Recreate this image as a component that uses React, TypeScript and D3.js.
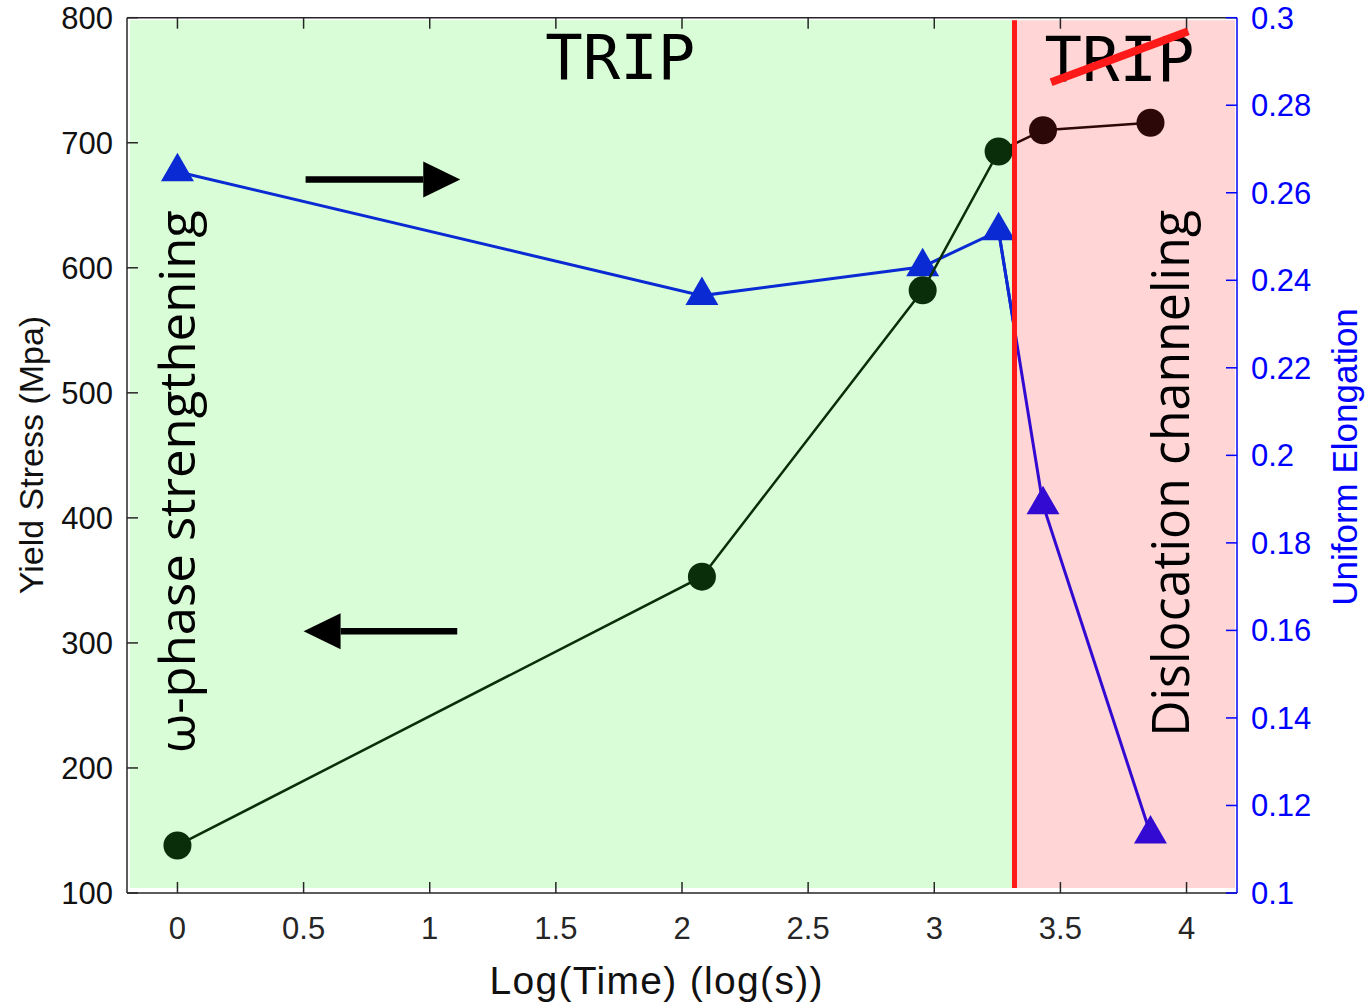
import React from "react";
import * as d3 from "d3";

// ---- data ----
const logTime = [0, 2.079, 2.954, 3.255, 3.431, 3.857];
const yieldStress = [138, 353, 582, 693, 710, 716];
const uniformElongation = [0.2648, 0.2365, 0.2431, 0.2513, 0.1887, 0.1135];
const transitionX = 3.318; // boundary between TRIP and dislocation channeling
const xTicks = [0, 0.5, 1, 1.5, 2, 2.5, 3, 3.5, 4];
const yLeftTicks = [100, 200, 300, 400, 500, 600, 700, 800];
const yRightTicks = [0.1, 0.12, 0.14, 0.16, 0.18, 0.2, 0.22, 0.24, 0.26, 0.28, 0.3];

const W = 1370;
const H = 1003;
const L = 127, R = 1237, T = 17.7, B = 893;

const x = d3.scaleLinear().domain([-0.2, 4.2]).range([L, R]);
const yL = d3.scaleLinear().domain([100, 800]).range([B, T]);
const yR = d3.scaleLinear().domain([0.1, 0.3]).range([B, T]);

const GREEN = "#0a2e0a";
const BROWN = "#2d0808";
const BLUE = "#0a2ad4";
const PURPLE = "#320ad2";
const AX = "#262626";
const SANS = "Liberation Sans, Arial, sans-serif";

export default function App() {
  const pts = logTime.map((t, i) => ({ t, s: yieldStress[i], u: uniformElongation[i], i }));
  const lineS = d3.line<any>().x((d) => x(d.t)).y((d) => yL(d.s));
  const lineU = d3.line<any>().x((d) => x(d.t)).y((d) => yR(d.u));
  const tri = d3.symbol().type(d3.symbolTriangle).size(470)();
  const xb = x(transitionX);

  const arrow = (x0: number, x1: number, yv: number) => {
    const px0 = x(x0), px1 = x(x1), py = yL(yv);
    const dir = Math.sign(px1 - px0);
    const head = 37;
    const base = px1 - dir * head;
    return (
      <g>
        <line x1={px0} x2={base} y1={py} y2={py} stroke="#000" strokeWidth={6.5} />
        <path d={`M${px1},${py} L${base},${py - 18} L${base},${py + 18} Z`} fill="#000" />
      </g>
    );
  };

  return (
    <svg width={W} height={H} style={{ position: "absolute", left: 0, top: 0, background: "#fff" }}>
      <defs>
        <clipPath id="leftZone">
          <rect x={L} y={0} width={xb - L} height={H} />
        </clipPath>
      </defs>
      {/* background regions */}
      <rect x={L + 3} y={T + 2.5} width={xb - L - 3} height={B - 5 - T - 2.5} fill="#d9fdd6" />
      <rect x={xb} y={T + 2.5} width={R - 2 - xb} height={B - 5 - T - 2.5} fill="#ffd5d5" />

      {/* annotations */}
      <text x={x(1.755)} y={yL(751)} fontFamily="DejaVu Sans Mono" fontSize={63} textAnchor="middle" fill="#000"
        textLength={150} lengthAdjust="spacingAndGlyphs">TRIP</text>
      <text x={x(3.734)} y={yL(749.5)} fontFamily="DejaVu Sans Mono" fontSize={63} textAnchor="middle" fill="#000"
        textLength={150} lengthAdjust="spacingAndGlyphs">TRIP</text>
      <text transform={`translate(${x(0.07)},${yL(429)}) rotate(-90)`} fontFamily="Open Sans" fontSize={49}
        textAnchor="middle" fill="#000" textLength={543} lengthAdjust="spacingAndGlyphs">ω-phase strengthening</text>
      <text transform={`translate(${x(4.009)},${yL(435.6)}) rotate(-90)`} fontFamily="Open Sans" fontSize={51}
        textAnchor="middle" fill="#000" textLength={527} lengthAdjust="spacingAndGlyphs">Dislocation channeling</text>
      {arrow(0.508, 1.121, 670.6)}
      {arrow(1.109, 0.5, 309.4)}

      {/* uniform elongation series */}
      <path d={lineU(pts.slice(3)) || ""} fill="none" stroke={PURPLE} strokeWidth={3} />
      <path d={lineU(pts.slice(0, 5)) || ""} fill="none" stroke={BLUE} strokeWidth={3} clipPath="url(#leftZone)" />
      {pts.map((p) => (
        <path key={"t" + p.i} d={tri || ""} transform={`translate(${x(p.t)},${yR(p.u)})`}
          fill={p.i < 4 ? BLUE : PURPLE} />
      ))}

      {/* yield stress series */}
      <path d={lineS(pts.slice(3)) || ""} fill="none" stroke={BROWN} strokeWidth={2.5} />
      <path d={lineS(pts.slice(0, 5)) || ""} fill="none" stroke={GREEN} strokeWidth={2.5} clipPath="url(#leftZone)" />
      {pts.map((p) => (
        <circle key={"c" + p.i} cx={x(p.t)} cy={yL(p.s)} r={14} fill={p.i < 4 ? GREEN : BROWN} />
      ))}

      {/* transition line and strike-through */}
      <line x1={xb} x2={xb} y1={T + 2.5} y2={B - 5} stroke="#ff1a1a" strokeWidth={5} />
      <line x1={x(3.463)} y1={yL(748.4)} x2={x(4.007)} y2={yL(789.1)} stroke="#ff1a1a" strokeWidth={8} />

      {/* axes box */}
      <line x1={L} x2={R} y1={T} y2={T} stroke={AX} strokeWidth={1.5} />
      <line x1={L} x2={R} y1={B} y2={B} stroke={AX} strokeWidth={1.5} />
      <line x1={L} x2={L} y1={T} y2={B} stroke={AX} strokeWidth={1.5} />
      <line x1={R} x2={R} y1={T} y2={B} stroke="#0000ff" strokeWidth={1.5} />

      {/* x ticks */}
      {xTicks.map((v) => (
        <g key={"x" + v}>
          <line x1={x(v)} x2={x(v)} y1={B} y2={B - 11} stroke={AX} strokeWidth={1.5} />
          <line x1={x(v)} x2={x(v)} y1={T} y2={T + 11} stroke={AX} strokeWidth={1.5} />
          <text x={x(v)} y={939} fontFamily={SANS} fontSize={31} textAnchor="middle" fill={AX}>
            {String(v)}
          </text>
        </g>
      ))}
      {/* left ticks */}
      {yLeftTicks.map((v) => (
        <g key={"l" + v}>
          <line x1={L} x2={L + 11} y1={yL(v)} y2={yL(v)} stroke={AX} strokeWidth={1.5} />
          <text x={113} y={yL(v) + 11} fontFamily={SANS} fontSize={31} textAnchor="end" fill="#111">
            {String(v)}
          </text>
        </g>
      ))}
      {/* right ticks */}
      {yRightTicks.map((v) => (
        <g key={"r" + v}>
          <line x1={R} x2={R - 11} y1={yR(v)} y2={yR(v)} stroke="#0000ff" strokeWidth={1.5} />
          <text x={1251} y={yR(v) + 11} fontFamily={SANS} fontSize={31} textAnchor="start" fill="#0000ff">
            {String(+v.toFixed(2))}
          </text>
        </g>
      ))}

      {/* axis labels */}
      <text x={656} y={994} fontFamily={SANS} fontSize={39} textAnchor="middle" fill="#111"
        textLength={333} lengthAdjust="spacing">Log(Time) (log(s))</text>
      <text transform={`translate(43,455) rotate(-90)`} fontFamily={SANS} fontSize={34}
        textAnchor="middle" fill="#111">Yield Stress (Mpa)</text>
      <text transform={`translate(1357,457) rotate(-90)`} fontFamily={SANS} fontSize={35}
        textAnchor="middle" fill="#0000ff">Uniform Elongation</text>
    </svg>
  );
}
